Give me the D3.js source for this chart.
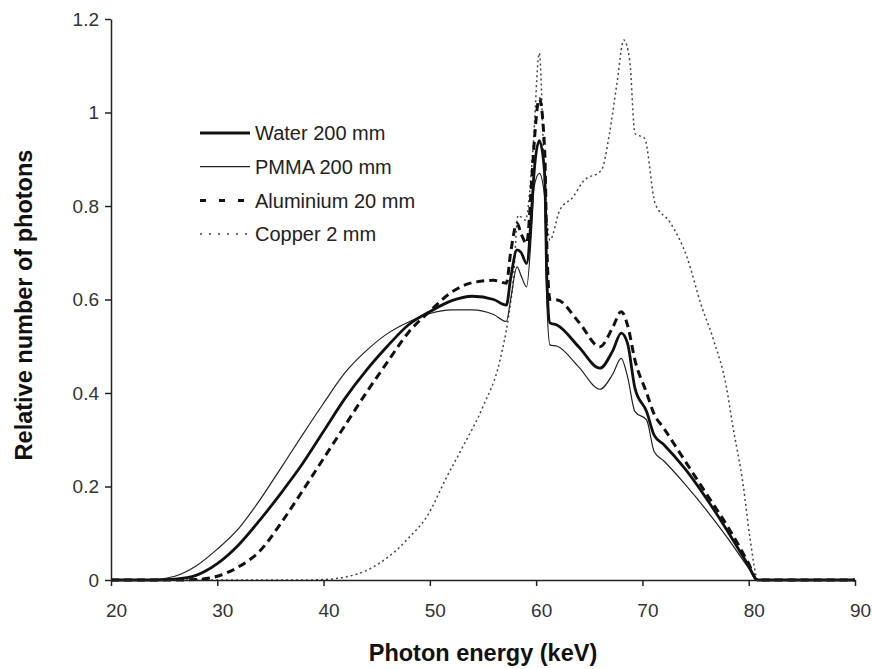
<!DOCTYPE html>
<html>
<head>
<meta charset="utf-8">
<script src="https://cdn.jsdelivr.net/npm/d3@7"></script>
<style>
  body { margin: 0; background: #fff; }
  svg { display: block; font-family: "Liberation Sans", Arial, sans-serif; }
  .axis path, .axis line { stroke: #222; stroke-width: 1.5; }
  .axis text { font-size: 19px; fill: #333; }
  .title { font-size: 23.5px; font-weight: bold; fill: #111; }
  .legend text { font-size: 20px; fill: #222; }
</style>
</head>
<body>
<script>

var width = 872,
    height = 669;

// shared energy grid (keV) for water / pmma / aluminium
var energy = [20, 24, 26, 28, 30, 32, 34, 36, 38, 40, 42, 44, 46, 48, 50, 52, 54, 56, 57.2, 57.6,
    58.2, 58.6, 59.1, 59.6, 59.8, 60.3, 60.8, 61.0, 61.3, 62, 64, 66, 67.2, 68, 68.6,
    69.3, 70.4, 71.1, 72, 74, 76, 78, 80, 80.8, 82, 90];

var water = [0, 0, 0.002, 0.01, 0.035, 0.075, 0.128, 0.186, 0.248, 0.318,
    0.388, 0.448, 0.50, 0.546, 0.574, 0.597, 0.607, 0.60, 0.588, 0.645,
    0.706, 0.70, 0.677, 0.80, 0.87, 0.94, 0.87, 0.65, 0.55, 0.545,
    0.499, 0.453, 0.49, 0.528, 0.506, 0.41, 0.36, 0.31, 0.29, 0.238,
    0.175, 0.105, 0.03, 0, 0, 0];

var pmma = [0, 0.001, 0.008, 0.03, 0.066, 0.11, 0.171, 0.24, 0.31, 0.378,
    0.443, 0.49, 0.527, 0.552, 0.570, 0.578, 0.578, 0.568, 0.553, 0.60,
    0.67, 0.65, 0.627, 0.76, 0.84, 0.87, 0.82, 0.60, 0.503, 0.50,
    0.456, 0.408, 0.44, 0.474, 0.435, 0.36, 0.342, 0.275, 0.255, 0.205,
    0.15, 0.09, 0.025, 0, 0, 0];

var aluminium = [0, 0, 0, 0.001, 0.008, 0.028, 0.062, 0.122, 0.19, 0.260,
    0.330, 0.400, 0.466, 0.530, 0.575, 0.615, 0.636, 0.641, 0.635, 0.70,
    0.763, 0.74, 0.72, 0.86, 0.93, 1.03, 0.92, 0.72, 0.60, 0.599,
    0.552, 0.499, 0.54, 0.574, 0.545, 0.47, 0.40, 0.355, 0.325, 0.255,
    0.185, 0.115, 0.035, 0, 0, 0];

// copper has its own grid
var copperEnergy = [20, 38, 40, 42, 44, 46, 47.2, 48, 49.7, 51.6, 53.1, 55, 56.6, 57.4, 57.85,
    58.3, 59.0, 59.7, 60.3, 60.8, 61.3, 62.2, 63.5, 64.4, 66.15, 66.9, 67.6, 68.25,
    68.8, 69.3, 70.2, 71.2, 72.6, 74.2, 75.5, 76.7, 77.9, 78.5, 79.5, 80.1, 80.9, 90];

var copper = [0, 0, 0.001, 0.006, 0.02, 0.048, 0.071, 0.09, 0.135, 0.221, 0.285, 0.371, 0.47,
    0.563, 0.642, 0.78, 0.77, 0.92, 1.127, 0.85, 0.727, 0.79, 0.82, 0.852, 0.877, 0.955,
    1.062, 1.155, 1.112, 0.955, 0.945, 0.805, 0.765, 0.69, 0.59, 0.513, 0.413, 0.33,
    0.2, 0.093, 0, 0];

var xTicks = [20, 30, 40, 50, 60, 70, 80, 90];
var yTicks = [0, 0.2, 0.4, 0.6, 0.8, 1, 1.2];
var yTickLabels = ["0", "0.2", "0.4", "0.6", "0.8", "1", "1.2"];

var seriesNames = ["Water 200 mm", "PMMA 200 mm", "Aluminium 20 mm", "Copper 2 mm"];

var series = [
    { name: seriesNames[3], x: copperEnergy, y: copper, color: "#444", width: 1.5, dash: "2,3", legendDash: "2,7" },
    { name: seriesNames[1], x: energy, y: pmma, color: "#222", width: 1.2, dash: null, legendDash: null },
    { name: seriesNames[2], x: energy, y: aluminium, color: "#111", width: 3, dash: "8,5", legendDash: "6,13" },
    { name: seriesNames[0], x: energy, y: water, color: "#111", width: 2.8, dash: null, legendDash: null }
];

var x = d3.scaleLinear().domain([20, 90]).range([111, 855]),
    y = d3.scaleLinear().domain([0, 1.2]).range([580, 19]);

var svg = d3.select("body").append("svg")
    .attr("width", width)
    .attr("height", height);

// lines
var line = d3.line()
    .x(function(d) { return x(d[0]); })
    .y(function(d) { return y(d[1]); })
    .curve(d3.curveMonotoneX);

svg.append("g")
    .attr("class", "lines")
    .selectAll("path")
    .data(series)
    .enter().append("path")
    .attr("fill", "none")
    .attr("stroke", function(d) { return d.color; })
    .attr("stroke-width", function(d) { return d.width; })
    .attr("stroke-dasharray", function(d) { return d.dash; })
    .attr("stroke-linejoin", "round")
    .attr("d", function(d) { return line(d.x.map(function(e, i) { return [e, d.y[i]]; })); });

// axes
svg.append("g")
    .attr("class", "axis")
    .attr("transform", "translate(0," + y(0) + ")")
    .call(d3.axisBottom(x).tickValues(xTicks).tickSize(6).tickSizeOuter(0).tickPadding(18))
    .selectAll("text")
    .attr("dx", 5);

svg.append("g")
    .attr("class", "axis")
    .attr("transform", "translate(" + x(20) + ",0)")
    .call(d3.axisLeft(y).tickValues(yTicks).tickSize(6).tickSizeOuter(0).tickPadding(6)
        .tickFormat(function(d, i) { return yTickLabels[i]; }));

// axis titles
svg.append("text")
    .attr("class", "title")
    .attr("x", 483)
    .attr("y", 661)
    .attr("text-anchor", "middle")
    .text("Photon energy (keV)");

svg.append("text")
    .attr("class", "title")
    .attr("transform", "translate(32,305) rotate(-90)")
    .attr("text-anchor", "middle")
    .text("Relative number of photons");

// legend
var legendOrder = [series[3], series[1], series[2], series[0]];

var legend = svg.append("g")
    .attr("class", "legend")
    .selectAll("g")
    .data(legendOrder)
    .enter().append("g")
    .attr("transform", function(d, i) { return "translate(200," + (133 + i * 33.7) + ")"; });

legend.append("line")
    .attr("x1", 0)
    .attr("x2", 50)
    .attr("stroke", function(d) { return d.color; })
    .attr("stroke-width", function(d) { return d.width; })
    .attr("stroke-dasharray", function(d) { return d.legendDash; });

legend.append("text")
    .attr("x", 55)
    .attr("dy", "0.36em")
    .text(function(d) { return d.name; });

</script>
</body>
</html>
